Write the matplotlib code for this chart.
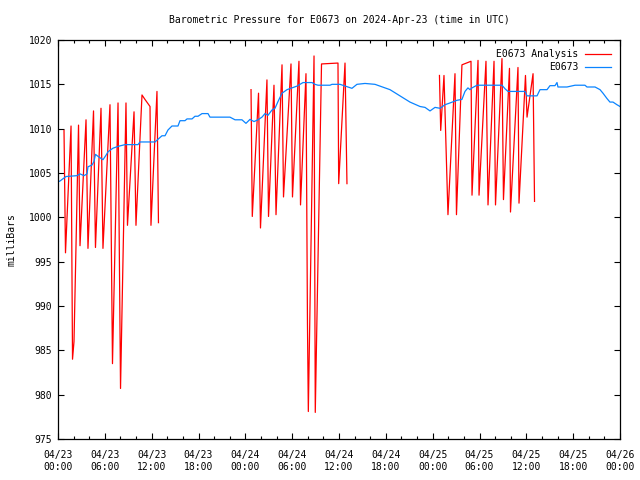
import matplotlib
matplotlib.use("Agg")
import matplotlib.pyplot as plt
import numpy as np

# hours since 2024-04-23 00:00 UTC, pressure in mb
obs_hours = [0, 0.26, 1.02, 2.43, 2.82, 3.33, 3.72, 3.84, 4.36, 4.61, 4.80, 5.25, 5.76,
             6.15, 6.41, 7.05, 7.69, 8.58, 10.25, 10.50, 12.43, 12.68, 13.32, 13.71,
             14.09, 14.60, 15.37, 15.63, 16.27, 16.53, 17.17, 17.55, 17.94, 18.45,
             19.22, 19.47, 22.03, 22.68, 23.57, 24.08, 24.60, 25.11, 25.62, 26.13,
             26.52, 26.90, 27.41, 27.80, 28.18, 28.70, 29.34, 29.98, 30.62, 31.39,
             32.54, 32.92, 33.31, 34.85, 35.10, 36.13, 36.64, 37.66, 38.30, 39.33,
             40.61, 41.25, 42.53, 43.81, 45.09, 46.38, 47.02, 47.66, 48.30, 48.94,
             49.58, 50.22, 51.11, 51.75, 52.14, 52.52, 52.78, 53.04, 53.68, 56.88,
             57.27, 57.65, 59.83, 60.09, 61.37, 61.75, 62.65, 63.03, 63.67, 63.93,
             64.05, 65.21, 66.24, 67.51, 67.77, 68.80, 69.44, 69.82, 70.33, 70.71,
             71.10, 71.61, 72.0]
obs_mb = [1004.0, 1004.1, 1004.6, 1004.7, 1004.9, 1004.7, 1004.9, 1005.7, 1005.9, 1006.3,
          1007.1, 1006.8, 1006.5, 1007.0, 1007.4, 1007.8, 1008.0, 1008.2, 1008.2, 1008.5,
          1008.5, 1008.7, 1009.2, 1009.2, 1009.85, 1010.3, 1010.3, 1010.9, 1010.9, 1011.1,
          1011.1, 1011.4, 1011.4, 1011.7, 1011.7, 1011.3, 1011.3, 1011.0, 1011.0, 1010.6,
          1011.05, 1010.8, 1011.0, 1011.3, 1011.7, 1011.5, 1012.1, 1012.3, 1013.05, 1014.0,
          1014.4, 1014.6, 1014.8, 1015.2, 1015.2, 1015.0, 1014.9, 1014.9, 1015.0, 1015.0,
          1014.85, 1014.55, 1015.0, 1015.1, 1015.0, 1014.8, 1014.4, 1013.7, 1013.0, 1012.5,
          1012.4, 1012.0, 1012.4, 1012.3, 1012.7, 1012.9, 1013.2, 1013.3, 1014.2, 1014.6,
          1014.4, 1014.6, 1014.9, 1014.9, 1014.5, 1014.2, 1014.2, 1013.7, 1013.7, 1014.4,
          1014.4, 1014.85, 1014.85, 1015.2, 1014.7, 1014.7, 1014.9, 1014.9, 1014.7, 1014.7,
          1014.4, 1014.0, 1013.4, 1013.0, 1013.0, 1012.7, 1012.5]

# analysis runs, one list per day (turning points of the trace)
ana1_hours = [0.77, 0.96, 1.67, 1.86, 2.05, 2.63, 2.82, 3.59, 3.84, 4.55, 4.80, 5.51, 5.76,
              6.66, 6.98, 7.69, 8.01, 8.71, 8.90, 9.74, 9.99, 10.76, 11.14, 11.79, 11.91,
              12.68, 12.87]
ana1_mb = [1009.8, 996.0, 1010.3, 984.0, 986.0, 1010.4, 996.8, 1011.0, 996.5, 1012.0, 996.6,
           1012.3, 996.5, 1012.7, 983.5, 1012.9, 980.7, 1012.9, 999.1, 1011.9, 999.1, 1013.8,
           1013.3, 1012.5, 999.1, 1014.2, 999.4]

ana2_hours = [24.73, 24.89, 25.69, 25.94, 26.77, 26.97, 27.67, 27.93, 28.70, 28.89, 29.85,
              30.04, 30.87, 31.07, 31.77, 31.96, 32.07, 32.80, 32.96, 33.76, 35.87, 35.96,
              36.77, 37.02]
ana2_mb = [1014.4, 1000.1, 1014.0, 998.8, 1015.5, 1000.1, 1014.9, 1000.3, 1017.2, 1002.3,
           1017.3, 1002.3, 1017.6, 1001.4, 1016.2, 988.0, 978.1, 1018.2, 978.0, 1017.3,
           1017.4, 1003.8, 1017.4, 1003.8]

ana3_hours = [48.87, 49.03, 49.45, 49.96, 50.86, 51.05, 51.75, 52.91, 53.04, 53.81, 53.94,
              54.83, 55.09, 55.86, 56.05, 56.88, 57.07, 57.84, 57.97, 58.93, 59.06, 59.89,
              60.09, 60.86, 61.05]
ana3_mb = [1016.0, 1009.8, 1016.0, 1000.3, 1016.2, 1000.3, 1017.2, 1017.6, 1002.5, 1017.7,
           1002.5, 1017.6, 1001.4, 1017.6, 1001.4, 1017.9, 1002.0, 1016.8, 1000.6, 1016.9,
           1001.6, 1016.0, 1011.3, 1016.2, 1001.8]

tick_hours = [0, 6, 12, 18, 24, 30, 36, 42, 48, 54, 60, 66, 72]
tick_labels = ["04/23\n00:00", "04/23\n06:00", "04/23\n12:00", "04/23\n18:00",
               "04/24\n00:00", "04/24\n06:00", "04/24\n12:00", "04/24\n18:00",
               "04/25\n00:00", "04/25\n06:00", "04/25\n12:00", "04/25\n18:00",
               "04/26\n00:00"]

plt.rcParams['font.family'] = ['DejaVu Sans Mono']
plt.rcParams['font.size'] = 7

fig = plt.figure(figsize=(6.4, 4.8), dpi=100)
ax = fig.add_axes([58 / 640, 1 - 439 / 480, 562 / 640, 399 / 480])

# join the three analysis days with gaps
a_h = ana1_hours + [np.nan] + ana2_hours + [np.nan] + ana3_hours
a_v = ana1_mb + [np.nan] + ana2_mb + [np.nan] + ana3_mb
ax.plot(a_h, a_v, color='#ff0000', lw=0.9, label='E0673 Analysis')
ax.plot(obs_hours, obs_mb, color='#0a84ff', lw=0.9, label='E0673')

ax.set_xlim(0, 72)
ax.set_ylim(975, 1020)
ax.set_yticks(np.arange(975, 1021, 5))
ax.set_xticks(tick_hours)
ax.set_xticklabels(tick_labels, linespacing=1.25)
ax.set_xticks(np.arange(0, 73, 2), minor=True)
ax.tick_params(which='both', direction='in', top=True, right=True, color='black')
ax.tick_params(which='major', length=4, width=0.8)
ax.tick_params(axis='x', which='major', pad=8)
ax.tick_params(axis='y', which='major', pad=4)
ax.tick_params(which='minor', length=2.5, width=0.8)
for s in ax.spines.values():
    s.set_linewidth(0.9)

ax.set_ylabel('milliBars', labelpad=9)
fig.text(339 / 640, 1 - 20 / 480, 'Barometric Pressure for E0673 on 2024-Apr-23 (time in UTC)',
         ha='center', va='center')

leg = ax.legend(loc='upper right', frameon=False, markerfirst=False, handlelength=2.7,
                handletextpad=0.6, labelspacing=0.3, borderaxespad=0.55)

fig.savefig('out.png', dpi=100)
